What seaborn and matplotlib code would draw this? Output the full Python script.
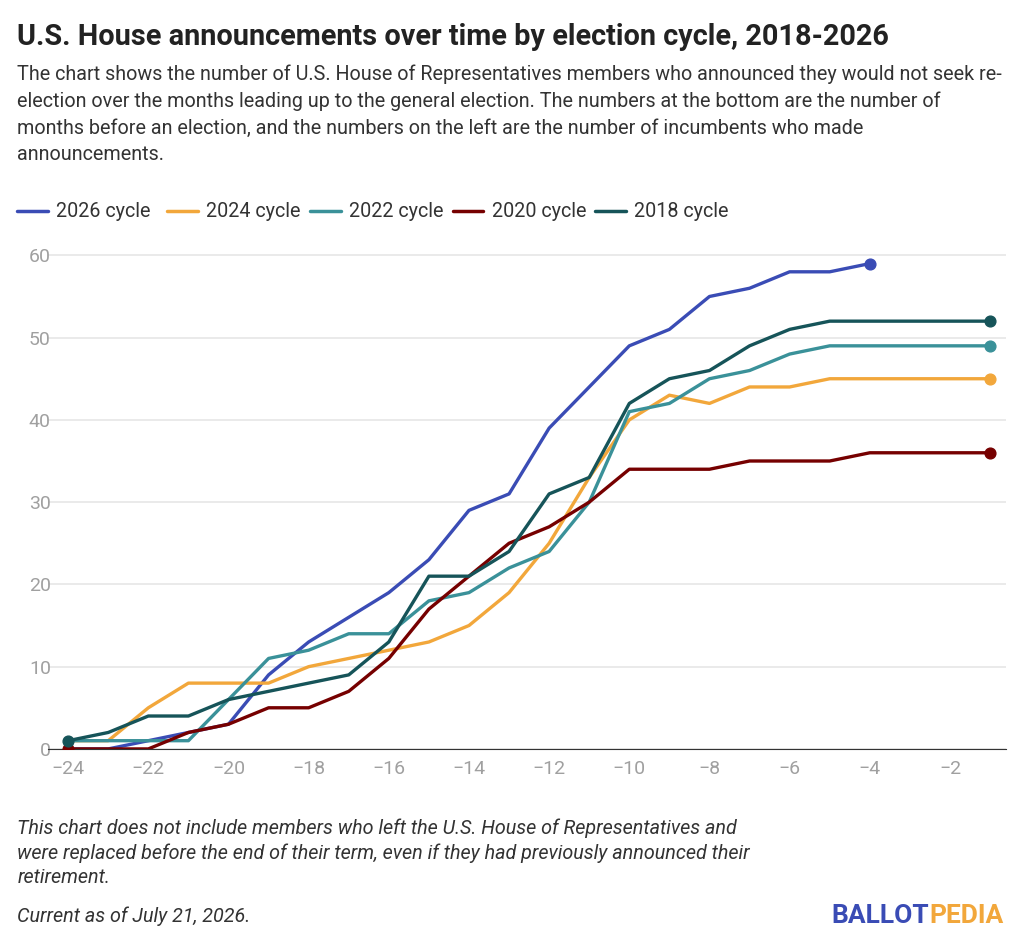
import numpy as np
import pandas as pd
import matplotlib
matplotlib.use("Agg")
import matplotlib.pyplot as plt
import seaborn as sns

months = list(range(-24, 0))
nan = np.nan
c2026 = [0, 0, 1, 2, 3, 9, 13, 16, 19, 23, 29, 31, 39, 44, 49, 51, 55, 56, 58, 58, 59, nan, nan, nan]
c2024 = [1, 1, 5, 8, 8, 8, 10, 11, 12, 13, 15, 19, 25, 33, 40, 43, 42, 44, 44, 45, nan, nan, nan, 45]
c2022 = [1, 1, 1, 1, 6, 11, 12, 14, 14, 18, 19, 22, 24, 30, 41, 42, 45, 46, 48, 49, nan, nan, nan, 49]
c2020 = [0, 0, 0, 2, 3, 5, 5, 7, 11, 17, 21, 25, 27, 30, 34, 34, 34, 35, 35, 35, 36, nan, nan, 36]
c2018 = [1, 2, 4, 4, 6, 7, 8, 9, 13, 21, 21, 24, 31, 33, 42, 45, 46, 49, 51, 52, nan, nan, nan, 52]

series = {"2026 cycle": c2026, "2024 cycle": c2024, "2022 cycle": c2022,
          "2020 cycle": c2020, "2018 cycle": c2018}
colors = {"2026 cycle": "#3a4cb5", "2024 cycle": "#f2a73b", "2022 cycle": "#3a9199",
          "2020 cycle": "#760000", "2018 cycle": "#165459"}

rows = []
for name, vals in series.items():
    for m, v in zip(months, vals):
        rows.append((name, m, v))
df = pd.DataFrame(rows, columns=["cycle", "month", "count"]).dropna()

sns.set_style("white")
plt.rcParams["font.family"] = ["Roboto", "DejaVu Sans"]

fig = plt.figure(figsize=(10.24, 9.48), dpi=100)
ax = fig.add_axes([0.047, 0.21, 0.9355, 0.538])

sns.lineplot(data=df, x="month", y="count", hue="cycle", palette=colors,
             linewidth=2.4, ax=ax, legend=False)

# end markers, and start markers for lines that begin the chart
for name, vals in series.items():
    sub = df[df.cycle == name]
    last = sub.iloc[-1]
    ax.scatter(last["month"], last["count"], s=60, color=colors[name], zorder=5)
for name in ["2020 cycle", "2018 cycle"]:
    sub = df[df.cycle == name]
    ax.scatter(sub.iloc[0]["month"], sub.iloc[0]["count"], s=60, color=colors[name], zorder=5)

ax.set_xlim(-24.5, -0.6)
ax.set_ylim(0, 62)
ax.set_xticks(range(-24, 0, 2))
ax.set_xticklabels([f"\u2212{abs(t)}" for t in range(-24, 0, 2)])
ax.set_yticks(range(0, 61, 10))
ax.yaxis.grid(True, color="#e6e6e6", linewidth=1.2)
ax.set_axisbelow(True)
for s in ["top", "right", "left"]:
    ax.spines[s].set_visible(False)
ax.spines["bottom"].set_color("#333333")
ax.tick_params(axis="both", length=0, labelsize=14, colors="#a0a0a0")
ax.tick_params(axis="x", pad=8)
ax.tick_params(axis="y", pad=-2)
ax.set_xlabel("")
ax.set_ylabel("")

fig.text(0.017, 0.961, "U.S. House announcements over time by election cycle, 2018-2026",
         fontsize=20.8, fontweight="bold", color="#222222", va="center")
fig.text(0.017, 0.932,
         "The chart shows the number of U.S. House of Representatives members who announced they would not seek re-\n"
         "election over the months leading up to the general election. The numbers at the bottom are the number of\n"
         "months before an election, and the numbers on the left are the number of incumbents who made\n"
         "announcements.",
         fontsize=14.2, color="#333333", va="top", linespacing=1.5)

legend_x = [0.017, 0.163, 0.303, 0.442, 0.581]
for xpos, name in zip(legend_x, series):
    fig.lines.append(plt.Line2D([xpos, xpos + 0.03], [0.777, 0.777], color=colors[name],
                                linewidth=2.5, transform=fig.transFigure))
    fig.text(xpos + 0.038, 0.777, name, fontsize=14.2, color="#333333", va="center")

fig.text(0.017, 0.137,
         "This chart does not include members who left the U.S. House of Representatives and\n"
         "were replaced before the end of their term, even if they had previously announced their\n"
         "retirement.",
         fontsize=14.2, style="italic", color="#333333", va="top", linespacing=1.35)
fig.text(0.017, 0.034, "Current as of July 21, 2026.", fontsize=14.2, style="italic",
         color="#333333", va="center")
t = fig.text(0.812, 0.034, "BALLOT", fontsize=19, fontweight="bold", color="#3a4cb5", va="center")
fig.canvas.draw()
bb = t.get_window_extent().transformed(fig.transFigure.inverted())
fig.text(bb.x1, 0.034, "PEDIA", fontsize=19, fontweight="bold", color="#f2a73b", va="center")

fig.savefig("out.png", dpi=100)
